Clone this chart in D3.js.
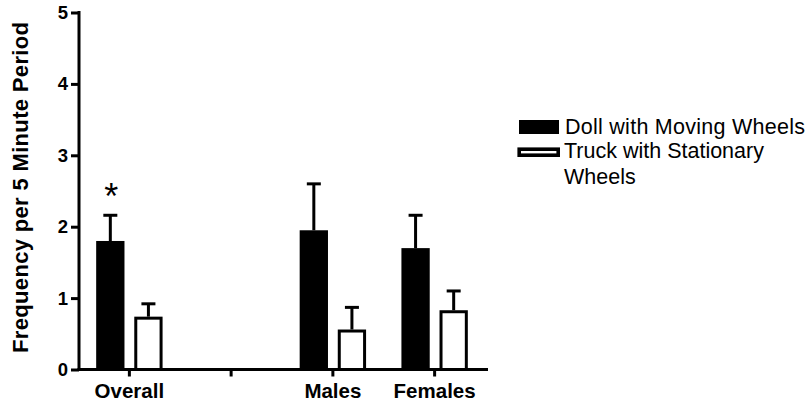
<!DOCTYPE html>
<html>
<head>
<meta charset="utf-8">
<script src="https://cdn.jsdelivr.net/npm/d3@7/dist/d3.min.js"></script>
<style>
  html, body { margin: 0; padding: 0; background: #fff; }
  svg { display: block; font-family: "Liberation Sans", Arial, Helvetica, sans-serif; }
</style>
</head>
<body>
<svg id="chart" width="808" height="405"></svg>
<script>
// Categories along the x axis (the blank slot is an empty spacer group)
const categories = ["Overall", "", "Males", "Females"];
const seriesNames = ["Doll with Moving Wheels", "Truck with Stationary Wheels"];
// Mean frequency per 5 minute period
const dollMeans  = [1.80, 0, 1.95, 1.70];
const truckMeans = [0.74, 0, 0.56, 0.83];
// Standard error of the mean
const dollErr  = [0.36, 0, 0.65, 0.46];
const truckErr = [0.18, 0, 0.31, 0.27];
// Significance markers above bars
const dollMarks  = ["*", "", "", ""];
const yTicks = [0, 1, 2, 3, 4, 5];

const svg = d3.select("#chart");
const axisX = 79, baseY = 369.5, topY = 12.5, xEnd = 488;
const stroke = 3;

const y = d3.scaleLinear().domain([0, 5]).range([baseY, topY]);
const x0 = d3.scaleBand().domain(categories).range([78.5, 485.5]);
const x1 = d3.scaleBand().domain(seriesNames).range([-33.2, 33.2]).paddingInner(0.257);

const rows = categories.map((c, i) => ({
  cat: c,
  bars: [
    { s: seriesNames[0], v: dollMeans[i], e: dollErr[i], mark: dollMarks[i], fill: "#000" },
    { s: seriesNames[1], v: truckMeans[i], e: truckErr[i], mark: "", fill: "#fff" }
  ]
}));

// Bars, error bars and markers
const g = svg.selectAll("g.grp").data(rows).join("g")
  .attr("class", "grp")
  .attr("transform", d => `translate(${x0(d.cat) + x0.bandwidth() / 2},0)`);

const bar = g.selectAll("g.bar").data(d => d.bars).join("g").attr("class", "bar");

// error bars drawn first so the bar outline covers their base
bar.filter(d => d.e > 0).each(function(d) {
  const cx = x1(d.s) + x1.bandwidth() / 2;
  const sel = d3.select(this);
  sel.append("line")
    .attr("x1", cx).attr("x2", cx)
    .attr("y1", y(d.v)).attr("y2", y(d.v + d.e))
    .attr("stroke", "#000").attr("stroke-width", stroke);
  sel.append("line")
    .attr("x1", cx - 7).attr("x2", cx + 7)
    .attr("y1", y(d.v + d.e)).attr("y2", y(d.v + d.e))
    .attr("stroke", "#000").attr("stroke-width", stroke);
});

bar.append("rect")
  .attr("x", d => x1(d.s) + stroke / 2)
  .attr("width", x1.bandwidth() - stroke)
  .attr("y", d => y(d.v) + stroke / 2)
  .attr("height", d => Math.max(0, y(0) - y(d.v) - stroke / 2))
  .attr("fill", d => d.fill)
  .attr("stroke", "#000")
  .attr("stroke-width", stroke);

bar.filter(d => d.mark).append("text")
  .attr("x", d => x1(d.s) + x1.bandwidth() / 2 + 1)
  .attr("y", d => y(d.v + d.e) - 6)
  .attr("text-anchor", "middle")
  .attr("font-size", 36)
  .text(d => d.mark);

// Y axis
const yAxis = d3.axisLeft(y).tickValues(yTicks).tickSize(8).tickPadding(3).tickFormat(d3.format("d"));
const ya = svg.append("g").attr("transform", `translate(${axisX},0)`).call(yAxis);
ya.select(".domain").remove();
ya.selectAll(".tick line").attr("stroke", "#000").attr("stroke-width", stroke);
ya.selectAll(".tick text")
  .attr("font-family", "Liberation Sans, Arial, sans-serif")
  .attr("font-size", 18.5).attr("font-weight", "bold").attr("fill", "#000");
svg.append("line")
  .attr("x1", axisX).attr("x2", axisX)
  .attr("y1", topY - 1.5).attr("y2", baseY)
  .attr("stroke", "#000").attr("stroke-width", stroke);

// X axis
const xAxis = d3.axisBottom(x0).tickSize(7).tickPadding(7);
const xa = svg.append("g").attr("transform", `translate(0,${baseY})`).call(xAxis);
xa.select(".domain").remove();
xa.selectAll(".tick line").attr("stroke", "#000").attr("stroke-width", stroke);
xa.selectAll(".tick text")
  .attr("font-family", "Liberation Sans, Arial, sans-serif")
  .attr("font-size", 20.5).attr("font-weight", "bold").attr("fill", "#000");
svg.append("line")
  .attr("x1", axisX - 1.5).attr("x2", xEnd)
  .attr("y1", baseY).attr("y2", baseY)
  .attr("stroke", "#000").attr("stroke-width", stroke);

// Y axis title
svg.append("text")
  .attr("transform", `translate(28,${(22 + 353) / 2}) rotate(-90)`)
  .attr("text-anchor", "middle")
  .attr("font-size", 22).attr("font-weight", "bold")
  .attr("textLength", 331).attr("lengthAdjust", "spacing")
  .text("Frequency per 5 Minute Period");

// Legend
const lg = svg.append("g");
lg.append("rect").attr("x", 519).attr("y", 120).attr("width", 40).attr("height", 14).attr("fill", "#000");
lg.append("rect").attr("x", 519.2).attr("y", 149.2).attr("width", 39).attr("height", 6)
  .attr("fill", "#fff").attr("stroke", "#000").attr("stroke-width", 3.6);
const legText = lg.append("text").attr("font-size", 21.5).attr("fill", "#000");
legText.append("tspan").attr("x", 565).attr("y", 134.3).attr("textLength", 240).attr("lengthAdjust", "spacing").text(seriesNames[0]);
legText.append("tspan").attr("x", 564).attr("y", 157.7).text("Truck with Stationary");
legText.append("tspan").attr("x", 564).attr("y", 184).text("Wheels");
</script>
</body>
</html>
